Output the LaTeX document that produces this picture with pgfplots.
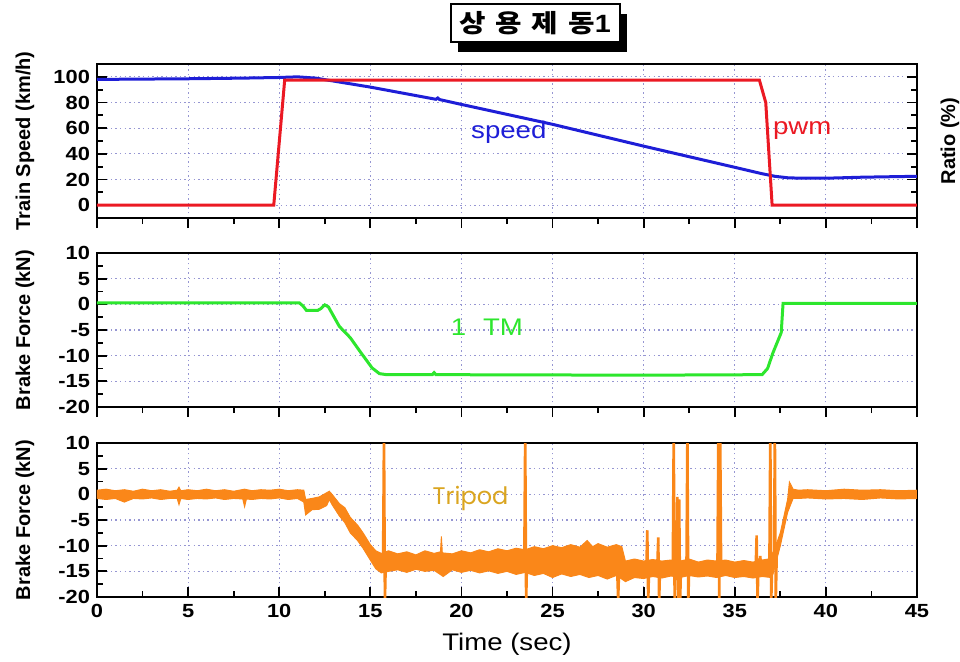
\documentclass[border=0pt]{standalone}
\usepackage{fontspec}
\setmainfont{Liberation Sans}
\newfontfamily\tfont[FakeStretch=1.15]{Liberation Sans}
\newfontfamily\krfont[FakeStretch=1.15]{Noto Sans CJK KR}
\newfontfamily\thinfont{Poppins}
\usepackage{pgfplots}
\pgfplotsset{compat=1.18}
\usetikzlibrary{shadows}
\definecolor{spdblue}{RGB}{30,30,215}
\definecolor{pwmred}{RGB}{235,25,35}
\definecolor{tmgreen}{RGB}{45,230,45}
\definecolor{tporange}{RGB}{250,135,25}
\definecolor{tplabel}{RGB}{218,165,32}
\definecolor{gridc}{RGB}{150,150,210}
\pgfplotsset{
  panel/.style={
    scale only axis, width=410pt, height=77pt,
    xmin=0, xmax=45, xtick={0,5,...,45}, minor x tick num=1,
    grid=major, major grid style={dash pattern=on 0.7pt off 1.6pt, gridc, line width=0.6pt},
    axis line style={line width=1pt},
    tick style={black, line width=0.9pt},
    major tick length=5pt, minor tick length=3pt,
    tick align=inside, xtick pos=bottom,
    /pgf/number format/assume math mode=true,
    ticklabel style={font=\tfont\fontsize{9.5}{10}\selectfont\bfseries},
    label style={font=\fontsize{10}{12}\selectfont\bfseries},
    ylabel style={at={(rel axis cs:-0.088,0.5)}, anchor=center},
  }
}
\begin{document}
\begin{tikzpicture}
\useasboundingbox (-48.5pt,-32pt) rectangle (431.5pt,298.5pt);

% speed and pwm
\begin{axis}[panel, at={(0pt,189.5pt)}, anchor=south west,
  ymin=-10, ymax=110, ytick={0,20,...,100}, minor ytick={10,30,...,90},
  xticklabels={}, xtick align=outside, ylabel={Train Speed (km/h)}]
\addplot[spdblue, line width=1.5pt] coordinates {
  (0,98) (2,98.2) (5,98.5) (8,99) (10,99.5) (11,100) (12,99) (15,92)
  (18.6,82.5) (18.7,83.5) (18.8,82.3) (20,78.5) (25,63) (30,46) (35,29.5)
  (36.5,24.5) (37.2,22.5) (38,21.2) (40,21) (42,21.8) (45,22.5)};
\addplot[pwmred, line width=1.5pt] coordinates {
  (0,0) (9.7,0) (10.3,97.5) (36.35,97.5) (36.7,80) (37.05,0) (45,0)};
\node[spdblue, font=\tfont\fontsize{12}{14}\selectfont] at (axis cs:22.6,56.6) {speed};
\node[pwmred, font=\tfont\fontsize{12}{14}\selectfont] at (axis cs:38.7,58) {pwm};
\end{axis}

% 1 TM brake force
\begin{axis}[panel, at={(0pt,95pt)}, anchor=south west,
  ymin=-20, ymax=10, ytick={-20,-15,...,10}, minor y tick num=1, ytick pos=left,
  xticklabels={}, xtick align=outside, ylabel={Brake Force (kN)}]
\addplot[tmgreen, line width=1.5pt] coordinates {
  (0,0.3) (11.1,0.3) (11.3,-0.3) (11.5,-1.2) (12.1,-1.2) (12.3,-0.8) (12.5,-0.1)
  (12.7,-0.5) (13.3,-4.3) (13.9,-6.5) (14.5,-9.5) (15.1,-12.4) (15.5,-13.5)
  (15.9,-13.7) (18.4,-13.7) (18.5,-13.3) (18.6,-13.7) (30,-13.8) (36.5,-13.7)
  (36.8,-12.5) (37.1,-9.4) (37.55,-5.5) (37.65,0.2) (45,0.2)};
\node[tmgreen, font=\tfont\fontsize{12}{14}\selectfont] at (axis cs:21.4,-4.5) {1\hspace{0.7em}TM};
\end{axis}

% Tripod brake force
\begin{axis}[panel, at={(0pt,0pt)}, anchor=south west,
  ymin=-20, ymax=10, ytick={-20,-15,...,10}, minor y tick num=1, ytick pos=left,
  xlabel={Time (sec)},
  xlabel style={at={(rel axis cs:0.5,-0.31)}, anchor=center,
    font=\tfont\fontsize{12}{14}\selectfont},
  ylabel={Brake Force (kN)}]
% noise band: upper envelope left to right, lower envelope right to left
\addplot[tporange, fill=tporange, line width=0.5pt] coordinates {
  (0,0.8) (0.5,1.0) (1.0,0.7) (1.5,0.9) (2.0,0.6) (2.5,1.0) (3.0,0.7) (3.5,0.9)
  (4.0,0.6) (4.4,0.8) (4.5,1.4) (4.6,0.7) (5.0,0.9) (5.5,0.7) (6.0,1.0) (6.5,0.7)
  (7.0,0.9) (7.5,0.6) (8.1,1.0) (8.5,0.7) (9.0,0.9) (9.5,0.8) (10.0,1.0) (10.5,0.7)
  (11.0,0.9) (11.35,0.8) (11.45,-1.0) (11.8,-0.8) (12.2,-0.5) (12.6,0.3) (12.75,0.6)
  (12.9,0.0) (13.3,-1.8) (13.6,-2.6) (13.9,-4.5) (14.3,-6.0) (14.6,-7.5) (15.0,-9.8)
  (15.3,-11.0) (15.6,-11.5) (16.0,-11.0) (16.5,-11.6) (17.0,-11.2) (17.5,-11.8)
  (18.0,-11.0) (18.5,-11.5) (18.85,-11.2) (18.9,-8.2) (18.95,-11.4) (19.5,-11.6)
  (20.0,-11.0) (20.5,-11.4) (21.0,-10.8) (21.5,-11.2) (22.0,-10.6) (22.5,-11.0)
  (23.0,-10.5) (23.5,-10.8) (24.0,-10.2) (24.5,-10.6) (25.0,-10.0) (25.5,-10.4)
  (26.0,-9.8) (26.5,-10.3) (26.9,-9.0) (27.2,-10.2) (27.5,-9.6) (28.0,-10.3)
  (28.5,-9.8) (28.8,-10.2) (29.0,-13.0) (29.5,-12.6) (30.0,-13.0) (30.5,-12.7)
  (31.0,-13.0) (31.5,-12.8) (32.0,-13.0) (32.5,-12.6) (33.0,-13.2) (33.5,-12.8)
  (34.0,-13.0) (34.5,-12.8) (35.0,-13.2) (35.5,-12.9) (36.0,-13.2) (36.5,-12.8)
  (37.0,-12.5) (37.5,-7.5) (37.9,-1.0) (38.0,2.4) (38.2,1.0) (38.5,0.8) (39,0.9)
  (40,0.7) (41,1.0) (42,0.8) (43,0.9) (44,0.7) (45,0.8)
  (45,-0.8) (44,-0.9) (43,-0.7) (42,-1.0) (41,-0.8) (40,-0.9) (39,-0.7) (38.5,-0.8)
  (38.2,-0.8) (37.9,-3.5) (37.5,-10) (37.1,-15.5) (37.0,-16.2) (36.5,-16.0)
  (36.0,-16.3) (35.5,-16.0) (35.0,-16.2) (34.5,-15.8) (34.0,-16.2) (33.5,-15.9)
  (33.0,-16.1) (32.5,-15.8) (32.0,-16.2) (31.5,-15.9) (31.0,-16.3) (30.5,-16.0)
  (30.0,-16.4) (29.5,-16.2) (29.0,-17.0) (28.8,-16.5) (28.5,-15.8) (28.0,-16.5)
  (27.5,-15.8) (27.0,-16.2) (26.5,-15.6) (26.0,-16.0) (25.5,-15.5) (25.0,-16.2)
  (24.5,-15.4) (24.0,-15.8) (23.5,-15.2) (23.0,-15.6) (22.5,-15.0) (22.0,-15.4)
  (21.5,-14.9) (21.0,-15.3) (20.5,-14.8) (20.0,-15.2) (19.5,-14.7) (19.0,-16.0)
  (18.5,-14.8) (18.0,-15.0) (17.5,-14.6) (17.0,-15.2) (16.5,-14.7) (16.0,-15.0)
  (15.6,-15.3) (15.3,-14.5) (15.0,-12.8) (14.6,-10.5) (14.3,-9.0) (13.9,-7.5)
  (13.6,-5.5) (13.3,-4.2) (12.9,-2.0) (12.75,-1.0) (12.6,-2.2) (12.2,-2.9)
  (11.8,-3.0) (11.45,-4.0) (11.35,-1.5) (11.0,-0.8) (10.5,-1.0) (10.0,-0.7)
  (9.5,-0.9) (9.0,-0.8) (8.5,-1.0) (8.2,-0.9) (8.1,-2.4) (8.0,-0.9) (7.5,-0.8)
  (7.0,-1.0) (6.5,-0.7) (6.0,-0.9) (5.5,-0.8) (5.0,-1.0) (4.6,-0.8) (4.5,-2.0)
  (4.4,-0.8) (4.0,-0.8) (3.5,-1.0) (3.0,-0.7) (2.5,-0.9) (2.0,-0.8) (1.5,-1.5)
  (1.0,-0.8) (0.5,-1.0) (0,-0.8)} -- cycle;
% spikes
\addplot[tporange, line width=1.3pt] coordinates {
  (15.7,-13) (15.75,12) (15.8,-21) (15.85,-13)
  (23.45,-13) (23.5,12) (23.55,-21) (23.6,-13)
  (28.55,-15) (28.6,-20.5) (28.65,-15)
  (30.15,-14) (30.2,-7) (30.25,-21) (30.3,-14)
  (30.75,-14) (30.8,-8.4) (30.85,-21) (30.9,-14)
  (31.6,-14) (31.65,12) (31.7,-21) (31.75,-14)
  (31.8,-14) (31.85,-0.5) (31.9,-21) (31.95,-1) (32.0,-21) (32.05,-14)
  (32.35,-14) (32.4,12) (32.45,-21) (32.5,-14)
  (34.05,-14) (34.1,12) (34.15,-21) (34.2,12) (34.25,-14)
  (36.15,-14) (36.2,-8) (36.25,-21) (36.3,-14)
  (36.35,-14) (36.4,-12) (36.45,-15)
  (36.9,-14) (36.95,12) (37.0,-21) (37.05,-14)
  (37.15,-14) (37.2,12) (37.25,-21) (37.3,-12)};
\node[tplabel, font=\thinfont\fontsize{12}{14}\selectfont] at (axis cs:20.5,-0.8) {Tripod};
\end{axis}

% right label and title box
\node[rotate=90, font=\fontsize{10}{12}\selectfont\bfseries] at (426.5pt,228pt) {Ratio (\%)};
\node[draw=black, fill=white, line width=1pt, minimum width=84.5pt, minimum height=19pt,
  inner sep=0pt, drop shadow={shadow xshift=3.5pt, shadow yshift=-5pt, opacity=1, fill=black},
  font=\fontsize{12.5}{15}\selectfont\bfseries] at (219pt,287pt)
  {{\krfont\bfseries 상\hspace{0.4em}용\hspace{0.4em}제\hspace{0.4em}동}{\tfont\bfseries 1}};
\end{tikzpicture}
\end{document}
